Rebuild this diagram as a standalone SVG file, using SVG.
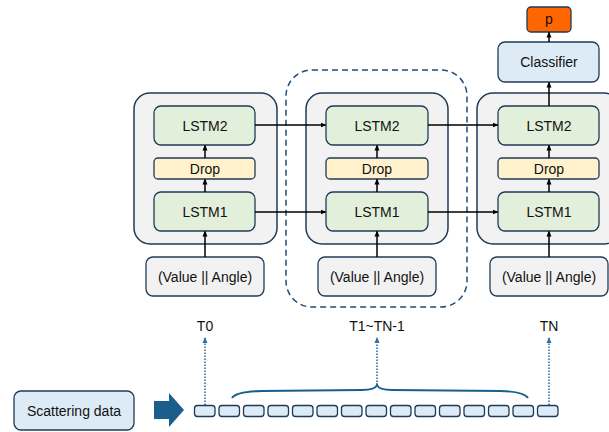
<svg xmlns="http://www.w3.org/2000/svg" width="609" height="432" viewBox="0 0 609 432">
<style>
text{font-family:"Liberation Sans",Arial,sans-serif;font-size:14px;fill:#111;text-anchor:middle;dominant-baseline:central}
.outer{fill:#F2F2F2;stroke:#1F3A57;stroke-width:1.5}
.lstm{fill:#E2EFDA;stroke:#1F3A57;stroke-width:1.3}
.drop{fill:#FFF2CC;stroke:#1F3A57;stroke-width:1.3}
.val{fill:#F2F2F2;stroke:#1F3A57;stroke-width:1.3}
.blue{fill:#DDEBF7;stroke:#1F3A57;stroke-width:1.3}
.cell{fill:#DDEBF7;stroke:#1F3A57;stroke-width:1.3}
.arr{stroke:#000;stroke-width:1.5;fill:none;marker-end:url(#ah)}
.dot{stroke:#2E6FA6;stroke-width:1.6;stroke-dasharray:1.6 1.4;fill:none;marker-end:url(#dh)}
</style>
<defs>
<marker id="ah" markerWidth="6" markerHeight="6" refX="5" refY="3" orient="auto" markerUnits="userSpaceOnUse"><path d="M0,0.5 L6,3 L0,5.5 Z" fill="#000"/></marker>
<marker id="dh" markerWidth="6" markerHeight="6" refX="5" refY="3" orient="auto" markerUnits="userSpaceOnUse"><path d="M0,0.5 L6,3 L0,5.5 Z" fill="#2E6FA6"/></marker>
</defs>

<g id="dashed-group">
<rect x="286" y="70" width="181" height="237" rx="26" fill="none" stroke="#1F4E79" stroke-width="1.5" stroke-dasharray="6 4"/>
</g>

<g id="cell1">
<rect class="outer" x="134" y="93" width="143" height="151" rx="16"/>
<rect class="lstm" x="154" y="106" width="101" height="39" rx="7"/><text x="205" y="126">LSTM2</text>
<rect class="drop" x="154" y="158" width="101" height="21" rx="4"/><text x="205" y="169">Drop</text>
<rect class="lstm" x="154" y="192" width="101" height="39" rx="7"/><text x="205" y="212">LSTM1</text>
</g>
<g id="input1"><rect class="val" x="146" y="257" width="118" height="39" rx="7"/><text x="205" y="277">(Value || Angle)</text></g>

<g id="cell2">
<rect class="outer" x="306" y="93" width="142" height="151" rx="16"/>
<rect class="lstm" x="326" y="106" width="102" height="39" rx="7"/><text x="377" y="126">LSTM2</text>
<rect class="drop" x="326" y="158" width="102" height="21" rx="4"/><text x="377" y="169">Drop</text>
<rect class="lstm" x="326" y="192" width="102" height="39" rx="7"/><text x="377" y="212">LSTM1</text>
</g>
<g id="input2"><rect class="val" x="318" y="257" width="118" height="39" rx="7"/><text x="377" y="277">(Value || Angle)</text></g>

<g id="cell3">
<rect class="outer" x="477" y="93" width="143" height="151" rx="16"/>
<rect class="lstm" x="498" y="106" width="101" height="39" rx="7"/><text x="549" y="126">LSTM2</text>
<rect class="drop" x="498" y="158" width="101" height="21" rx="4"/><text x="549" y="169">Drop</text>
<rect class="lstm" x="498" y="192" width="101" height="39" rx="7"/><text x="549" y="212">LSTM1</text>
</g>
<g id="input3"><rect class="val" x="490" y="257" width="118" height="39" rx="7"/><text x="549" y="277">(Value || Angle)</text></g>

<g id="classifier"><rect class="blue" x="498" y="42" width="101" height="40" rx="7"/><text x="549" y="62">Classifier</text></g>
<g id="p"><rect x="527" y="7" width="44" height="25" rx="4" fill="#FF6600" stroke="#1F3A57" stroke-width="1.3"/><text x="549" y="19">p</text></g>

<g id="scattering"><rect class="blue" x="14" y="391" width="120" height="39" rx="7"/><text x="74" y="411">Scattering data</text></g>

<g id="sequence">
<rect class="cell" x="194.5" y="405.5" width="20.5" height="11" rx="3"/>
<rect class="cell" x="219" y="405.5" width="20.5" height="11" rx="3"/>
<rect class="cell" x="243.5" y="405.5" width="20.5" height="11" rx="3"/>
<rect class="cell" x="268" y="405.5" width="20.5" height="11" rx="3"/>
<rect class="cell" x="292.5" y="405.5" width="20.5" height="11" rx="3"/>
<rect class="cell" x="317" y="405.5" width="20.5" height="11" rx="3"/>
<rect class="cell" x="341.5" y="405.5" width="20.5" height="11" rx="3"/>
<rect class="cell" x="366" y="405.5" width="20.5" height="11" rx="3"/>
<rect class="cell" x="390.5" y="405.5" width="20.5" height="11" rx="3"/>
<rect class="cell" x="415" y="405.5" width="20.5" height="11" rx="3"/>
<rect class="cell" x="439.5" y="405.5" width="20.5" height="11" rx="3"/>
<rect class="cell" x="464" y="405.5" width="20.5" height="11" rx="3"/>
<rect class="cell" x="488.5" y="405.5" width="20.5" height="11" rx="3"/>
<rect class="cell" x="513" y="405.5" width="20.5" height="11" rx="3"/>
<rect class="cell" x="537.5" y="405.5" width="20.5" height="11" rx="3"/>
</g>

<g id="labels">
<text x="205" y="326">T0</text>
<text x="377" y="326">T1~TN-1</text>
<text x="549" y="326">TN</text>
</g>

<g id="connectors">
<line class="arr" x1="205" y1="257" x2="205" y2="231.5"/>
<line class="arr" x1="205" y1="192" x2="205" y2="179.5"/>
<line class="arr" x1="205" y1="158" x2="205" y2="145.5"/>
<line class="arr" x1="377" y1="257" x2="377" y2="231.5"/>
<line class="arr" x1="377" y1="192" x2="377" y2="179.5"/>
<line class="arr" x1="377" y1="158" x2="377" y2="145.5"/>
<line class="arr" x1="549" y1="257" x2="549" y2="231.5"/>
<line class="arr" x1="549" y1="192" x2="549" y2="179.5"/>
<line class="arr" x1="549" y1="158" x2="549" y2="145.5"/>
<line class="arr" x1="549" y1="106" x2="549" y2="82.5"/>
<line class="arr" x1="549" y1="42" x2="549" y2="32.5"/>
<line class="arr" x1="255" y1="125" x2="325.5" y2="125"/>
<line class="arr" x1="255" y1="212" x2="325.5" y2="212"/>
<line class="arr" x1="428" y1="125" x2="497.5" y2="125"/>
<line class="arr" x1="428" y1="212" x2="497.5" y2="212"/>
<line class="dot" x1="205" y1="405" x2="205" y2="338"/>
<line class="dot" x1="377" y1="385" x2="377" y2="338"/>
<line class="dot" x1="549" y1="405" x2="549" y2="338"/>
<path d="M232,398 Q236,391.5 262,391 L362,390 Q375,390 377,385 Q379,390 392,390 L500,391 Q524,391.5 528,398" fill="none" stroke="#1B5E8C" stroke-width="2"/>
<polygon points="154,401 169,401 169,393 184,410 169,427 169,419 154,419" fill="#1B5E8C"/>
</g>
</svg>
